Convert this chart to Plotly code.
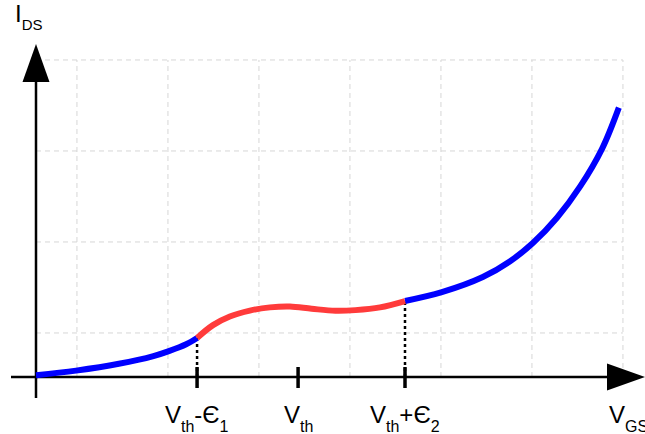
import plotly.graph_objects as go

# Transfer characteristic I_DS(V_GS), in grid units (one grid cell = 1 unit)
vgs_low = [0.0, 0.44, 0.91, 1.29, 1.46, 1.65, 1.77]
ids_low = [0.02, 0.07, 0.145, 0.23, 0.285, 0.36, 0.429]

vgs_mid = [1.77, 1.945, 2.13, 2.35, 2.57, 2.79, 3.03, 3.29, 3.51, 3.78, 4.055]
ids_mid = [0.429, 0.57, 0.665, 0.73, 0.765, 0.775, 0.75, 0.728, 0.735, 0.765, 0.835]

vgs_high = [4.055, 4.46, 4.91, 5.21, 5.46, 5.725, 5.98, 6.22, 6.405]
ids_high = [0.835, 0.932, 1.098, 1.272, 1.472, 1.75, 2.094, 2.507, 2.96]

tick_vgs = [1.77, 2.88, 4.055]

SUB = '<span style="font-size:16px;baseline-shift:-9px">{}</span>'
tick_labels = [
    "V" + SUB.format("th") + "-Є" + SUB.format("1"),
    "V" + SUB.format("th"),
    "V" + SUB.format("th") + "+Є" + SUB.format("2"),
]
x_label = "V" + SUB.format("GS")
y_label = "I" + '<span style="font-size:15px;baseline-shift:-8px">DS</span>'

grid_x = [0.45, 1.45, 2.45, 3.45, 4.45, 5.45, 6.45]
grid_y = [0.484, 1.484, 2.484, 3.484]

UNIT = 91  # pixels per grid unit
W, H = 645, 434
X0_PX, Y0_PX = 36, 377  # origin position in the canvas

BLUE = "#0000ff"
RED = "#ff3b3b"
FONT = "Liberation Sans, Arial, sans-serif"

fig = go.Figure()
fig.add_trace(go.Scatter(x=vgs_low, y=ids_low, mode="lines",
                         line=dict(color=BLUE, width=6, shape="spline"), hoverinfo="skip"))
fig.add_trace(go.Scatter(x=vgs_high, y=ids_high, mode="lines",
                         line=dict(color=BLUE, width=6, shape="spline"), hoverinfo="skip"))
fig.add_trace(go.Scatter(x=vgs_mid, y=ids_mid, mode="lines",
                         line=dict(color=RED, width=6, shape="spline"), hoverinfo="skip"))

shapes = []
# dashed grid
for gx in grid_x:
    shapes.append(dict(type="line", xref="x", yref="y", x0=gx, x1=gx, y0=0, y1=grid_y[-1],
                       line=dict(color="#d6d6d6", width=1, dash="5px,4px"), layer="below"))
for gy in grid_y:
    shapes.append(dict(type="line", xref="x", yref="y", x0=0, x1=grid_x[-1], y0=gy, y1=gy,
                       line=dict(color="#d6d6d6", width=1, dash="5px,4px"), layer="below"))

# axes with arrow heads
x_min = -X0_PX / UNIT
x_max = (W - X0_PX) / UNIT
y_min = -(H - Y0_PX) / UNIT
y_max = Y0_PX / UNIT
head_len = 38 / UNIT
head_half = 13.5 / UNIT
x_tip = x_max
y_tip = (Y0_PX - 44) / UNIT

shapes.append(dict(type="line", xref="x", yref="y", x0=-25 / UNIT, x1=x_tip - head_len, y0=0, y1=0,
                   line=dict(color="black", width=2.5), layer="below"))
shapes.append(dict(type="line", xref="x", yref="y", x0=0, x1=0, y0=-21 / UNIT, y1=y_tip - head_len,
                   line=dict(color="black", width=2.5), layer="below"))
shapes.append(dict(type="path", xref="x", yref="y",
                   path=f"M {x_tip - head_len},{-head_half} L {x_tip - head_len},{head_half} L {x_tip},0 Z",
                   fillcolor="black", line=dict(color="black", width=0)))
shapes.append(dict(type="path", xref="x", yref="y",
                   path=f"M {-head_half},{y_tip - head_len} L {head_half},{y_tip - head_len} L 0,{y_tip} Z",
                   fillcolor="black", line=dict(color="black", width=0)))

# tick marks on the V_GS axis
for tx in tick_vgs:
    shapes.append(dict(type="line", xref="x", yref="y", x0=tx, x1=tx, y0=-11 / UNIT, y1=10 / UNIT,
                       line=dict(color="black", width=3.5)))

# dotted drop lines at the edges of the red region
for tx, ty in [(vgs_mid[0], ids_mid[0]), (vgs_mid[-1], ids_mid[-1])]:
    shapes.append(dict(type="line", xref="x", yref="y", x0=tx, x1=tx, y0=0, y1=ty,
                       line=dict(color="black", width=2.5, dash="3px,3px"), layer="below"))

annotations = []
for tx, lab in zip(tick_vgs, tick_labels):
    annotations.append(dict(x=tx, y=0, xref="x", yref="y", text=lab, showarrow=False,
                            xanchor="center", yanchor="top", yshift=-22,
                            font=dict(family=FONT, size=24, color="black")))
annotations.append(dict(x=(607 - X0_PX) / UNIT, y=0, xref="x", yref="y", text=x_label,
                        showarrow=False, xanchor="left", yanchor="top", yshift=-22,
                        font=dict(family=FONT, size=24, color="black")))
annotations.append(dict(x=(13 - X0_PX) / UNIT, y=y_max, xref="x", yref="y", text=y_label,
                        showarrow=False, xanchor="left", yanchor="top", yshift=2,
                        font=dict(family=FONT, size=24, color="black")))

fig.update_layout(
    width=W, height=H,
    margin=dict(l=0, r=0, t=0, b=0),
    paper_bgcolor="white", plot_bgcolor="white",
    showlegend=False,
    xaxis=dict(range=[x_min, x_max], visible=False, fixedrange=True),
    yaxis=dict(range=[y_min, y_max], visible=False, fixedrange=True),
    shapes=shapes,
    annotations=annotations,
)

fig.write_html("out.html", config={"displayModeBar": False})
